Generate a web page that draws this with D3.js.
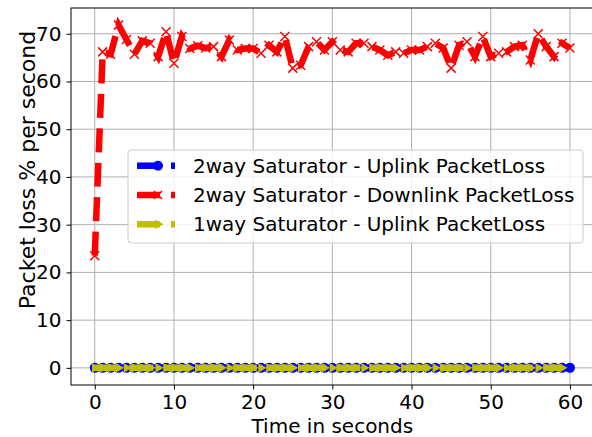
<!DOCTYPE html>
<html>
<head>
<meta charset="utf-8">
<script src="https://cdn.jsdelivr.net/npm/d3@7"></script>
<style>
  body { margin: 0; background: #fff; }
  svg { display: block; font-family: "DejaVu Sans", sans-serif; }
</style>
</head>
<body>
<svg id="chart" width="592" height="437"></svg>
<script>
var seconds = d3.range(0, 61);
var downlink2way = [23.5, 66.2, 65.7, 71.8, 68.8, 65.7, 68.5, 68, 65.2, 70.4,
    63.8, 69.4, 66.9, 67.5, 67, 67.3, 65.2, 68.7, 66.6, 66.9,
    66.9, 65.9, 67.6, 66.2, 69.4, 62.8, 63.4, 67.3, 68.3, 66.6,
    68.3, 66.6, 66.2, 68, 68, 67.3, 66.6, 65.5, 66.2, 65.9,
    66.6, 66.6, 67.3, 68, 67, 62.8, 67.6, 68.3, 65.2, 69.4,
    65.2, 65.9, 66.2, 67.3, 67.6, 64.5, 70, 67.3, 65.2, 68, 67];
var uplink2way = seconds.map(function() { return 0; });
var uplink1way = seconds.slice(0, 60).map(function() { return 0; });
var xTicks = [0, 10, 20, 30, 40, 50, 60];
var yTicks = [0, 10, 20, 30, 40, 50, 60, 70];
var legendNames = [
    "2way Saturator - Uplink PacketLoss",
    "2way Saturator - Downlink PacketLoss",
    "1way Saturator - Uplink PacketLoss"
];

var margin = {"top": 8, "left": 71},
    plot_w = 522.7,
    plot_h = 377,
    blue = "#0000ff",
    red = "#ff0000",
    yellow = "#bfbf00",
    font_size = 20;

var svg = d3.select("svg#chart");

var x = d3.scaleLinear().domain([-3, 63]).range([margin.left, margin.left + plot_w]);
var y = d3.scaleLinear().domain([-3.59, 75.39]).range([margin.top + plot_h, margin.top]);

// grid
svg.append("g").selectAll("line.vx")
    .data(xTicks).enter()
    .append("line")
        .attr("x1", function(d) { return x(d); })
        .attr("x2", function(d) { return x(d); })
        .attr("y1", margin.top)
        .attr("y2", margin.top + plot_h)
        .attr("stroke", "#b0b0b0")
        .attr("stroke-width", 1);

svg.append("g").selectAll("line.hy")
    .data(yTicks).enter()
    .append("line")
        .attr("x1", margin.left)
        .attr("x2", margin.left + plot_w)
        .attr("y1", function(d) { return y(d); })
        .attr("y2", function(d) { return y(d); })
        .attr("stroke", "#b0b0b0")
        .attr("stroke-width", 1);

// axes
var xAxis = svg.append("g")
    .attr("transform", "translate(0," + (margin.top + plot_h) + ")")
    .call(d3.axisBottom(x).tickValues(xTicks).tickSize(4.5).tickPadding(5));
var yAxis = svg.append("g")
    .attr("transform", "translate(" + margin.left + ",0)")
    .call(d3.axisLeft(y).tickValues(yTicks).tickSize(4.5).tickPadding(5));

[xAxis, yAxis].forEach(function(ax) {
    ax.selectAll("text")
        .style("font-size", font_size + "px")
        .style("font-family", "DejaVu Sans")
        .attr("fill", "#000");
    ax.select(".domain").remove();
    ax.selectAll(".tick line").attr("stroke", "#000").attr("stroke-width", 1);
});

// spines
svg.append("rect")
    .attr("x", margin.left)
    .attr("y", margin.top)
    .attr("width", plot_w)
    .attr("height", plot_h)
    .attr("fill", "none")
    .attr("stroke", "#000")
    .attr("stroke-width", 1);

svg.append("text")
    .attr("x", x(30))
    .attr("y", 433)
    .attr("text-anchor", "middle")
    .style("font-size", font_size + "px")
    .text("Time in seconds");

svg.append("text")
    .attr("transform", "translate(35,170) rotate(-90)")
    .attr("text-anchor", "middle")
    .style("font-size", "22px")
    .text("Packet loss % per second");

var line = d3.line()
    .x(function(d) { return x(d.t); })
    .y(function(d) { return y(d.v); });

function pts(values) {
    return values.map(function(v, i) { return {"t": seconds[i], "v": v}; });
}

var plot = svg.append("g");

function drawLine(values, color) {
    plot.append("path")
        .datum(pts(values))
        .attr("d", line)
        .attr("fill", "none")
        .attr("stroke", color)
        .attr("stroke-width", 6.5)
        .attr("stroke-dasharray", "24,10.5")
        .attr("stroke-linecap", "butt");
}

function crossPath(s) {
    return "M" + (-s) + "," + (-s) + "L" + s + "," + s + "M" + (-s) + "," + s + "L" + s + "," + (-s);
}

// blue: 2way uplink
drawLine(uplink2way, blue);
plot.selectAll("circle.blue")
    .data(pts(uplink2way)).enter()
    .append("circle")
        .attr("cx", function(d) { return x(d.t); })
        .attr("cy", function(d) { return y(d.v); })
        .attr("r", 5)
        .attr("fill", blue);

// red: 2way downlink
drawLine(downlink2way, red);
plot.selectAll("path.cross")
    .data(pts(downlink2way)).enter()
    .append("path")
        .attr("transform", function(d) { return "translate(" + [x(d.t), y(d.v)] + ")"; })
        .attr("d", crossPath(4.5))
        .attr("stroke", red)
        .attr("stroke-width", 1.5)
        .attr("fill", "none");

// yellow: 1way uplink
var tri = d3.symbol().type(d3.symbolTriangle).size(40);
drawLine(uplink1way, yellow);
plot.selectAll("path.tri")
    .data(pts(uplink1way)).enter()
    .append("path")
        .attr("transform", function(d) { return "translate(" + [x(d.t), y(d.v)] + ") rotate(90)"; })
        .attr("d", tri)
        .attr("fill", yellow);

// legend
var legend_g = svg.append("g")
    .attr("transform", "translate(128,150)");

legend_g.append("rect")
    .attr("width", 455)
    .attr("height", 93)
    .attr("rx", 3)
    .attr("fill", "#fff")
    .attr("fill-opacity", 0.8)
    .attr("stroke", "#cccccc")
    .attr("stroke-width", 1);

var legend_data = [
    {"name": legendNames[0], "color": blue, "marker": "circle"},
    {"name": legendNames[1], "color": red, "marker": "cross"},
    {"name": legendNames[2], "color": yellow, "marker": "tri"}
];

var row = legend_g.selectAll("g.row")
    .data(legend_data).enter()
    .append("g")
        .attr("class", "row")
        .attr("transform", function(d, i) { return "translate(0," + (15.7 + 29.3 * i) + ")"; });

row.append("line")
    .attr("x1", 9).attr("x2", 32)
    .attr("stroke", function(d) { return d.color; })
    .attr("stroke-width", 6.5);
row.append("line")
    .attr("x1", 43).attr("x2", 47)
    .attr("stroke", function(d) { return d.color; })
    .attr("stroke-width", 6.5);

row.each(function(d) {
    var g = d3.select(this);
    if (d.marker === "circle") {
        g.append("circle").attr("cx", 30).attr("r", 5).attr("fill", d.color);
    } else if (d.marker === "cross") {
        g.append("path").attr("transform", "translate(30,0)").attr("d", crossPath(4))
            .attr("stroke", d.color).attr("stroke-width", 1.5);
    } else {
        g.append("path").attr("transform", "translate(30,0) rotate(90)").attr("d", tri)
            .attr("fill", d.color);
    }
});

row.append("text")
    .attr("x", 65)
    .attr("y", 7)
    .style("font-size", font_size + "px")
    .text(function(d) { return d.name; });
</script>
</body>
</html>
